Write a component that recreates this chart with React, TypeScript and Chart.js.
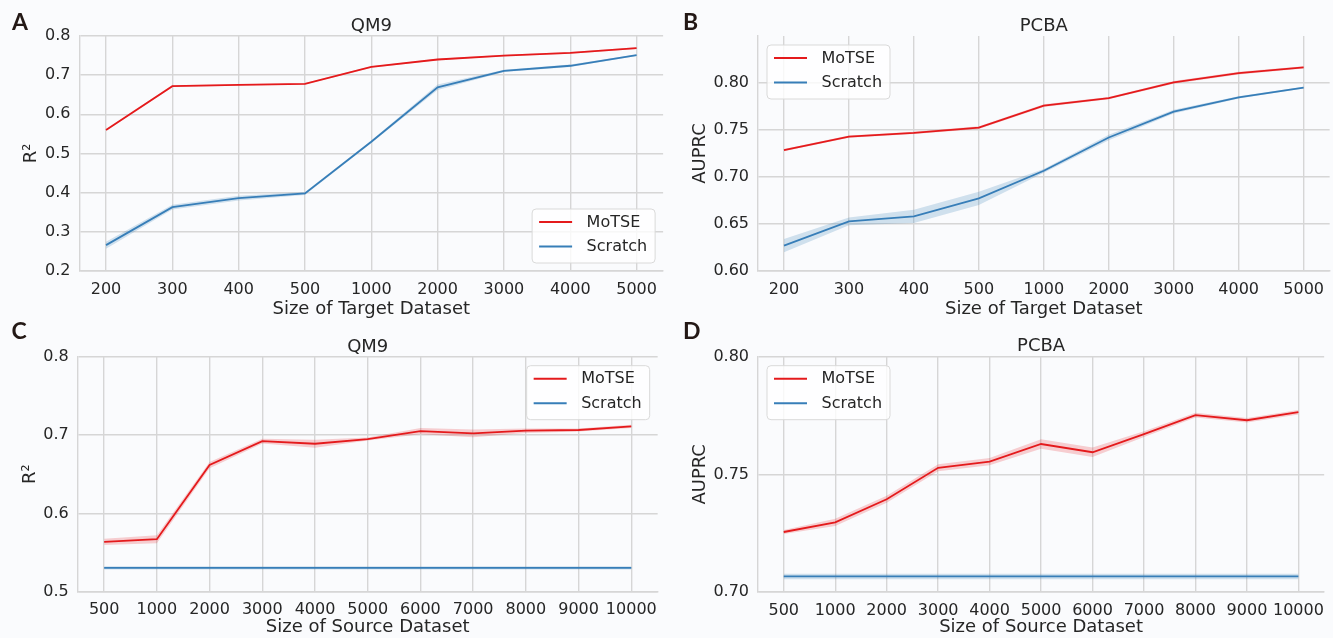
import { useEffect, useRef } from 'react';
import { Chart, registerables } from 'chart.js';

Chart.register(...registerables);

// ---------- data ----------
const targetSizes = ['200', '300', '400', '500', '1000', '2000', '3000', '4000', '5000'];
const sourceSizes = ['500', '1000', '2000', '3000', '4000', '5000', '6000', '7000', '8000', '9000', '10000'];

const qm9TargetMoTSE = [0.560, 0.672, 0.675, 0.678, 0.721, 0.740, 0.750, 0.757, 0.769];
const qm9TargetMoTSEErr = [0.002, 0.002, 0.002, 0.002, 0.002, 0.002, 0.002, 0.002, 0.002];
const qm9TargetScratch = [0.266, 0.363, 0.386, 0.398, 0.530, 0.669, 0.711, 0.724, 0.751];
const qm9TargetScratchErr = [0.009, 0.006, 0.006, 0.004, 0.003, 0.007, 0.003, 0.003, 0.002];

const pcbaTargetMoTSE = [0.7285, 0.743, 0.747, 0.7526, 0.776, 0.784, 0.8007, 0.8106, 0.8167];
const pcbaTargetMoTSEErr = [0.0012, 0.0012, 0.0012, 0.0015, 0.0015, 0.0012, 0.0015, 0.0015, 0.0012];
const pcbaTargetScratch = [0.627, 0.6528, 0.6581, 0.6772, 0.7066, 0.742, 0.7695, 0.7848, 0.7951];
const pcbaTargetScratchErr = [0.007, 0.004, 0.007, 0.007, 0.002, 0.003, 0.002, 0.0012, 0.001];

const qm9SourceMoTSE = [0.5637, 0.567, 0.6617, 0.6923, 0.6889, 0.6949, 0.7051, 0.7021, 0.7055, 0.7064, 0.7111];
const qm9SourceMoTSEErr = [0.004, 0.005, 0.004, 0.003, 0.005, 0.002, 0.004, 0.005, 0.003, 0.002, 0.002];
const qm9SourceScratch = [0.5305, 0.5305, 0.5305, 0.5305, 0.5305, 0.5305, 0.5305, 0.5305, 0.5305, 0.5305, 0.5305];
const qm9SourceScratchErr = [0.002, 0.002, 0.002, 0.002, 0.002, 0.002, 0.002, 0.002, 0.002, 0.002, 0.002];

const pcbaSourceMoTSE = [0.7255, 0.7296, 0.7394, 0.7528, 0.7554, 0.7629, 0.7594, 0.7671, 0.7752, 0.7730, 0.7764];
const pcbaSourceMoTSEErr = [0.0008, 0.0015, 0.0015, 0.0015, 0.0015, 0.002, 0.002, 0.0012, 0.001, 0.001, 0.001];
const pcbaSourceScratch = [0.7066, 0.7066, 0.7066, 0.7066, 0.7066, 0.7066, 0.7066, 0.7066, 0.7066, 0.7066, 0.7066];
const pcbaSourceScratchErr = [0.0012, 0.0012, 0.0012, 0.0012, 0.0012, 0.0012, 0.0012, 0.0012, 0.0012, 0.0012, 0.0012];

const qm9TargetYTicks = [0.2, 0.3, 0.4, 0.5, 0.6, 0.7, 0.8];
const pcbaTargetYTicks = [0.6, 0.65, 0.7, 0.75, 0.8];
const qm9SourceYTicks = [0.5, 0.6, 0.7, 0.8];
const pcbaSourceYTicks = [0.7, 0.75, 0.8];

const seriesNames = ['MoTSE', 'Scratch'];

// ---------- style ----------
const RED = '#e41a1c';
const BLUE = '#377eb8';
const RED_BAND = 'rgba(228,26,28,0.2)';
const BLUE_BAND = 'rgba(55,126,184,0.22)';
const GRID = '#d6d6d6';
const TEXT = '#262626';
const BG = '#fafbfd';
const FONT = '"DejaVu Sans", sans-serif';

type PanelCfg = {
  left: number; top: number; width: number; height: number;
  cl: number; ct: number; cr: number; cb: number;
  title: string; titleBase: number;
  letter: string; letterX: number; letterBase: number;
  xLabel: string; yLabel: string; yTitlePad: number;
  cats: string[];
  motse: number[]; motseErr: number[]; scratch: number[]; scratchErr: number[];
  yMin: number; yMax: number; yTicks: number[]; dec: number;
  legend: 'br' | 'tl' | 'tr';
};

const panels: PanelCfg[] = [
  {
    left: 0, top: 0, width: 666, height: 320,
    cl: 79.5, ct: 36, cr: 664.6, cb: 271,
    title: 'QM9', titleBase: 30.5, letter: 'A', letterX: 12, letterBase: 29.5,
    xLabel: 'Size of Target Dataset', yLabel: 'R²', yTitlePad: 21,
    cats: targetSizes, motse: qm9TargetMoTSE, motseErr: qm9TargetMoTSEErr,
    scratch: qm9TargetScratch, scratchErr: qm9TargetScratchErr,
    yMin: 0.2, yMax: 0.8, yTicks: qm9TargetYTicks, dec: 1, legend: 'br',
  },
  {
    left: 666, top: 0, width: 667, height: 320,
    cl: 92, ct: 36, cr: 667, cb: 271,
    title: 'PCBA', titleBase: 30.5, letter: 'B', letterX: 17, letterBase: 30,
    xLabel: 'Size of Target Dataset', yLabel: 'AUPRC', yTitlePad: 23.5,
    cats: targetSizes, motse: pcbaTargetMoTSE, motseErr: pcbaTargetMoTSEErr,
    scratch: pcbaTargetScratch, scratchErr: pcbaTargetScratchErr,
    yMin: 0.6, yMax: 0.85, yTicks: pcbaTargetYTicks, dec: 2, legend: 'tl',
  },
  {
    left: 0, top: 320, width: 666, height: 318,
    cl: 77.8, ct: 36.7, cr: 660.5, cb: 271.7,
    title: 'QM9', titleBase: 31.5, letter: 'C', letterX: 11.5, letterBase: 19,
    xLabel: 'Size of Source Dataset', yLabel: 'R²', yTitlePad: 20,
    cats: sourceSizes, motse: qm9SourceMoTSE, motseErr: qm9SourceMoTSEErr,
    scratch: qm9SourceScratch, scratchErr: qm9SourceScratchErr,
    yMin: 0.5, yMax: 0.8, yTicks: qm9SourceYTicks, dec: 1, legend: 'tr',
  },
  {
    left: 666, top: 320, width: 667, height: 318,
    cl: 92, ct: 36.7, cr: 664, cb: 272,
    title: 'PCBA', titleBase: 31, letter: 'D', letterX: 17, letterBase: 18.5,
    xLabel: 'Size of Source Dataset', yLabel: 'AUPRC', yTitlePad: 23.5,
    cats: sourceSizes, motse: pcbaSourceMoTSE, motseErr: pcbaSourceMoTSEErr,
    scratch: pcbaSourceScratch, scratchErr: pcbaSourceScratchErr,
    yMin: 0.7, yMax: 0.8, yTicks: pcbaSourceYTicks, dec: 2, legend: 'tl',
  },
];

function roundRect(ctx: CanvasRenderingContext2D, x: number, y: number, w: number, h: number, r: number) {
  ctx.beginPath();
  ctx.moveTo(x + r, y);
  ctx.lineTo(x + w - r, y);
  ctx.arcTo(x + w, y, x + w, y + r, r);
  ctx.lineTo(x + w, y + h - r);
  ctx.arcTo(x + w, y + h, x + w - r, y + h, r);
  ctx.lineTo(x + r, y + h);
  ctx.arcTo(x, y + h, x, y + h - r, r);
  ctx.lineTo(x, y + r);
  ctx.arcTo(x, y, x + r, y, r);
  ctx.closePath();
}

function Panel({ cfg }: { cfg: PanelCfg }) {
  const ref = useRef<HTMLCanvasElement>(null);
  useEffect(() => {
    const canvas = ref.current;
    if (!canvas) return;
    const n = cfg.cats.length;
    const margin = 0.05 * (n - 1);
    const idx = cfg.cats.map((_, i) => i);
    const pts = (vals: number[]) => vals.map((v, i) => ({ x: i, y: v }));
    const lo = (vals: number[], err: number[]) => vals.map((v, i) => ({ x: i, y: v - err[i] }));
    const hi = (vals: number[], err: number[]) => vals.map((v, i) => ({ x: i, y: v + err[i] }));
    const bandBase = { borderWidth: 0, borderColor: 'rgba(0,0,0,0)', pointRadius: 0, pointHoverRadius: 0, tension: 0 };
    const lineBase = { borderWidth: 1.8, pointRadius: 0, pointHoverRadius: 0, fill: false, tension: 0 };

    const decor = {
      id: 'decor',
      afterDraw(chart: any) {
        const ctx: CanvasRenderingContext2D = chart.ctx;
        const ca = chart.chartArea;
        ctx.save();
        // title
        ctx.font = `18px ${FONT}`;
        ctx.fillStyle = TEXT;
        ctx.textAlign = 'center';
        ctx.textBaseline = 'alphabetic';
        ctx.fillText(cfg.title, (ca.left + ca.right) / 2, cfg.titleBase);
        // panel letter
        ctx.font = `bold 23px Lato, ${FONT}`;
        ctx.fillStyle = '#231815';
        ctx.textAlign = 'left';
        ctx.fillText(cfg.letter, cfg.letterX, cfg.letterBase);
        // legend
        const bw = 123, bh = 54, inset = 8.5;
        let bx = ca.left + inset, by = ca.top + inset;
        if (cfg.legend === 'br') { bx = ca.right - inset - bw; by = ca.bottom - inset - bh; }
        if (cfg.legend === 'tr') { bx = ca.right - inset - bw; by = ca.top + inset; }
        roundRect(ctx, bx + 0.5, by + 0.5, bw, bh, 4);
        ctx.fillStyle = 'rgba(255,255,255,0.8)';
        ctx.fill();
        ctx.strokeStyle = '#d9d9d9';
        ctx.lineWidth = 1;
        ctx.stroke();
        const colors = [RED, BLUE];
        const rows = [by + 13.5, by + 38];
        ctx.font = `16px ${FONT}`;
        ctx.textBaseline = 'middle';
        seriesNames.forEach((name, i) => {
          ctx.beginPath();
          ctx.strokeStyle = colors[i];
          ctx.lineWidth = 2;
          ctx.moveTo(bx + 7.5, rows[i]);
          ctx.lineTo(bx + 40.5, rows[i]);
          ctx.stroke();
          ctx.fillStyle = TEXT;
          ctx.fillText(name, bx + 55, rows[i] + 0.5);
        });
        ctx.restore();
      },
    };

    const chart = new Chart(canvas, {
      type: 'line',
      data: {
        datasets: [
          { label: 'mlo', data: lo(cfg.motse, cfg.motseErr), ...bandBase, fill: false, order: 4 } as any,
          { label: 'mhi', data: hi(cfg.motse, cfg.motseErr), ...bandBase, fill: '-1', backgroundColor: RED_BAND, order: 4 } as any,
          { label: 'slo', data: lo(cfg.scratch, cfg.scratchErr), ...bandBase, fill: false, order: 3 } as any,
          { label: 'shi', data: hi(cfg.scratch, cfg.scratchErr), ...bandBase, fill: '-1', backgroundColor: BLUE_BAND, order: 3 } as any,
          { label: seriesNames[1], data: pts(cfg.scratch), ...lineBase, borderColor: BLUE, order: 1 } as any,
          { label: seriesNames[0], data: pts(cfg.motse), ...lineBase, borderColor: RED, order: 0 } as any,
        ],
      },
      options: {
        animation: false,
        responsive: false,
        maintainAspectRatio: false,
        devicePixelRatio: 1,
        events: [],
        layout: { padding: { left: 0, top: cfg.ct, right: cfg.width - cfg.cr, bottom: 0 } },
        plugins: { legend: { display: false }, tooltip: { enabled: false }, title: { display: false } },
        scales: {
          x: {
            type: 'linear',
            min: -margin,
            max: n - 1 + margin,
            afterBuildTicks: (s: any) => { s.ticks = idx.map((v) => ({ value: v })); },
            afterFit: (s: any) => { s.height = cfg.height - cfg.cb; },
            grid: { color: GRID, lineWidth: 1.4, drawTicks: false },
            border: { display: true, color: GRID, width: 1.4 },
            ticks: {
              autoSkip: false, maxRotation: 0, minRotation: 0, padding: 9,
              color: TEXT, font: { family: FONT, size: 16 },
              callback: (v: any) => cfg.cats[Math.round(Number(v))] ?? '',
            },
            title: { display: true, text: cfg.xLabel, color: TEXT, font: { family: FONT, size: 18 }, padding: { top: 0, bottom: 0 } },
          },
          y: {
            type: 'linear',
            min: cfg.yMin,
            max: cfg.yMax,
            afterBuildTicks: (s: any) => { s.ticks = cfg.yTicks.map((v) => ({ value: v })); },
            afterFit: (s: any) => { s.width = cfg.cl; },
            grid: { color: GRID, lineWidth: 1.4, drawTicks: false },
            border: { display: true, color: GRID, width: 1.4 },
            ticks: {
              padding: 9, color: TEXT, font: { family: FONT, size: 16 },
              callback: (v: any) => Number(v).toFixed(cfg.dec),
            },
            title: { display: true, text: cfg.yLabel, color: TEXT, font: { family: FONT, size: 18 }, padding: { top: cfg.yTitlePad, bottom: 0 } },
          },
        },
      } as any,
      plugins: [decor],
    });
    return () => chart.destroy();
  }, [cfg]);

  return (
    <canvas
      ref={ref}
      width={cfg.width}
      height={cfg.height}
      style={{ position: 'absolute', left: cfg.left, top: cfg.top, width: cfg.width, height: cfg.height }}
    />
  );
}

export default function App() {
  useEffect(() => {
    document.body.style.margin = '0';
    document.body.style.background = BG;
  }, []);
  return (
    <div style={{ position: 'absolute', left: 0, top: 0, width: 1333, height: 638, background: BG, overflow: 'hidden' }}>
      {panels.map((p, i) => (
        <Panel key={i} cfg={p} />
      ))}
    </div>
  );
}
